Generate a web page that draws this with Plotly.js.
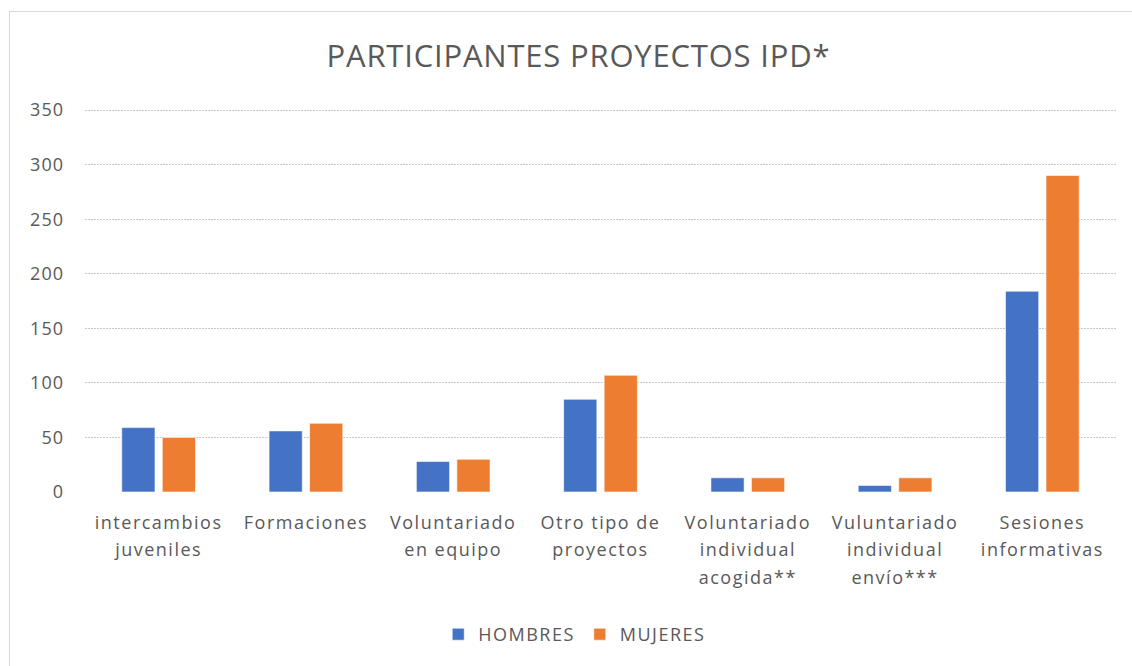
<!DOCTYPE html>
<html>
<head>
<meta charset="utf-8">
<script src="https://cdn.plot.ly/plotly-3.0.1.min.js"></script>
<style>
  html, body { margin: 0; padding: 0; background: #ffffff; }
  #frame { position: absolute; left: 9px; top: 11px; width: 1200px; height: 700px;
           border-left: 1px solid #d9d9d9; border-top: 1px solid #d9d9d9; }
  #chart { position: absolute; left: 0; top: 0; width: 1132px; height: 666px; }
  .xtick text { letter-spacing: 1.5px; }
  .ytick text { letter-spacing: 1px; }
  .legendtext { letter-spacing: 1.5px; }
  .gtitle { letter-spacing: 0.8px; }
</style>
</head>
<body>
<div id="frame"></div>
<div id="chart"></div>
<script>
const categories = [
  "intercambios<br>juveniles",
  "Formaciones",
  "Voluntariado<br>en equipo",
  "Otro tipo de<br>proyectos",
  "Voluntariado<br>individual<br>acogida**",
  "Vuluntariado<br>individual<br>envío***",
  "Sesiones<br>informativas"
];
const hombres = [59, 56, 28, 85, 13, 6, 184];
const mujeres = [50, 63, 30, 107, 13, 13, 290];
const yTicks = [0, 50, 100, 150, 200, 250, 300, 350];
const seriesNames = ["HOMBRES", "MUJERES"];

const catKeys = categories.map((c, i) => "c" + i);
const tickText = categories.map(c =>
  c.split("<br>").map(l => '<span style="font-size:18px">' + l + '</span>').join("<br>")
);

const traces = [
  { type: "bar", name: seriesNames[0], x: catKeys, y: hombres,
    marker: { color: "#4472C4", line: { color: "rgba(255,255,255,0.6)", width: 1 } },
    hoverinfo: "y" },
  { type: "bar", name: seriesNames[1], x: catKeys, y: mujeres,
    marker: { color: "#ED7D31", line: { color: "rgba(255,255,255,0.6)", width: 1 } },
    hoverinfo: "y" }
];

const layout = {
  width: 1132, height: 666,
  paper_bgcolor: "rgba(0,0,0,0)", plot_bgcolor: "rgba(0,0,0,0)",
  margin: { l: 85, r: 16, t: 109, b: 174 },
  font: { family: "Open Sans, sans-serif", color: "#595959" },
  title: {
    text: "PARTICIPANTES PROYECTOS IPD*",
    font: { family: "Open Sans, sans-serif", size: 31, color: "#595959" },
    x: 0.511, xanchor: "center", y: 0.915, yanchor: "middle"
  },
  barmode: "group", bargap: 0.45, bargroupgap: 0.18,
  xaxis: {
    type: "category", tickmode: "array", tickvals: catKeys, ticktext: tickText,
    tickfont: { size: 21.5, color: "#595959" }, showgrid: false, zeroline: false,
    showline: false, ticks: "", ticklabelstandoff: 14
  },
  yaxis: {
    range: [0, 351], tickmode: "array", tickvals: yTicks,
    tickfont: { size: 18, color: "#595959" },
    showgrid: true, gridcolor: "#c9c9c9", griddash: "2px,1px", gridwidth: 1,
    zeroline: false, showline: false, ticks: "", ticklabelstandoff: 20
  },
  showlegend: true,
  legend: {
    orientation: "h", x: 0.475, xanchor: "center", y: -0.372, yanchor: "middle",
    font: { size: 18, color: "#595959" }, itemwidth: 30, traceorder: "normal"
  }
};

Plotly.newPlot("chart", traces, layout, { displayModeBar: false, staticPlot: true });
</script>
</body>
</html>
